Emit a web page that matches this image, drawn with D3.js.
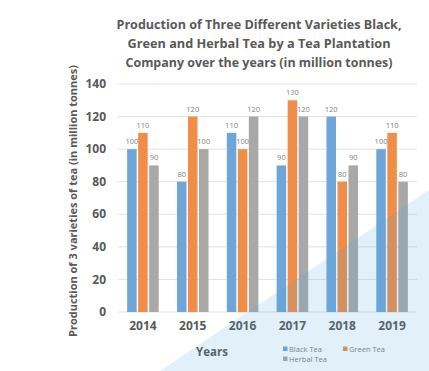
<!DOCTYPE html>
<html><head><meta charset="utf-8">
<script src="https://cdn.jsdelivr.net/npm/d3@7"></script>
<style>body{margin:0;background:#fff}svg{display:block}</style>
</head><body>
<svg id="c" width="429" height="371"></svg>
<script>
const years = ["2014","2015","2016","2017","2018","2019"];
const seriesNames = ["Black Tea","Green Tea","Herbal Tea"];
const blackTea = [100, 80, 110, 90, 120, 100];
const greenTea = [110, 120, 100, 130, 80, 110];
const herbalTea = [90, 100, 120, 120, 90, 80];
const yTicks = [0, 20, 40, 60, 80, 100, 120, 140];
const titleLines = ["Production of Three Different Varieties Black,",
  "Green and Herbal Tea by a Tea Plantation",
  "Company over the years (in million tonnes)"];

const colors = ["#6ea6d9", "#f08d49", "#a8a8a8"];
const seriesVals = [blackTea, greenTea, herbalTea];
const svg = d3.select("#c");
const font = "Open Sans, Liberation Sans, sans-serif";

const x = d3.scaleBand().domain(years).range([118, 417]).padding(0);
const xi = d3.scaleBand().domain(seriesNames).range([0, x.bandwidth()]).paddingInner(0.136).paddingOuter(0.83);
const y = d3.scaleLinear().domain([0, 140]).range([312, 84]);

// grid
svg.append("g").selectAll("line").data(yTicks).join("line")
  .attr("x1", 118).attr("x2", 417).attr("y1", d => y(d)).attr("y2", d => y(d))
  .attr("stroke", "#e3e3e3").attr("stroke-width", 1);

// y tick labels
svg.append("g").selectAll("text").data(yTicks).join("text")
  .attr("x", 106).attr("y", d => y(d)).attr("dy", "0.35em")
  .attr("text-anchor", "end").attr("font-family", font).attr("font-weight", "bold")
  .attr("font-size", 12).attr("fill", "#595959").text(d => d);

// bars
const groups = svg.append("g").selectAll("g").data(years).join("g")
  .attr("transform", d => `translate(${x(d)},0)`);
seriesNames.forEach((s, si) => {
  groups.append("rect")
    .attr("x", xi(s)).attr("width", xi.bandwidth())
    .attr("y", (d, i) => y(seriesVals[si][i]))
    .attr("height", (d, i) => y(0) - y(seriesVals[si][i]))
    .attr("fill", colors[si]);
  groups.append("text")
    .attr("x", xi(s) + xi.bandwidth() / 2)
    .attr("y", (d, i) => y(seriesVals[si][i]) - 5)
    .attr("text-anchor", "middle").attr("font-family", font)
    .attr("font-size", 7.5).attr("fill", "#7f7f7f")
    .text((d, i) => seriesVals[si][i]);
});

// x labels
svg.append("g").selectAll("text").data(years).join("text")
  .attr("x", d => x(d) + x.bandwidth() / 2).attr("y", 330)
  .attr("text-anchor", "middle").attr("font-family", font).attr("font-weight", "bold")
  .attr("font-size", 12).attr("fill", "#595959").text(d => d);

// title
const tl = [285, 263, 267];
svg.append("g").selectAll("text").data(titleLines).join("text")
  .attr("x", 259).attr("y", (d, i) => 29 + i * 19)
  .attr("text-anchor", "middle").attr("font-family", font).attr("font-weight", "bold")
  .attr("font-size", 12.5).attr("fill", "#595959")
  .attr("textLength", (d, i) => tl[i]).attr("lengthAdjust", "spacingAndGlyphs")
  .text(d => d);

// y axis title
svg.append("text")
  .attr("transform", "translate(77,201) rotate(-90)")
  .attr("text-anchor", "middle").attr("font-family", font).attr("font-weight", "bold")
  .attr("font-size", 11).attr("fill", "#595959")
  .attr("textLength", 272).attr("lengthAdjust", "spacingAndGlyphs")
  .text("Production of 3 varieties of tea (in million tonnes)");

// x axis title
svg.append("text").attr("x", 212).attr("y", 356)
  .attr("text-anchor", "middle").attr("font-family", font).attr("font-weight", "bold")
  .attr("font-size", 11.5).attr("fill", "#595959").text("Years");

// legend
const legPos = [[283, 349], [343, 349], [283, 359]];
seriesNames.forEach((s, i) => {
  svg.append("rect").attr("x", legPos[i][0]).attr("y", legPos[i][1] - 2.5)
    .attr("width", 4.5).attr("height", 4.5).attr("fill", colors[i]);
  svg.append("text").attr("x", legPos[i][0] + 6).attr("y", legPos[i][1]).attr("dy", "0.35em")
    .attr("font-family", font).attr("font-size", 7.5).attr("fill", "#7f7f7f").text(s);
});

// decorative triangle overlay
svg.append("polygon").attr("points", "160,371 429,190 429,371")
  .attr("fill", "#4aa3dc").attr("fill-opacity", 0.16);
</script>
</body></html>
